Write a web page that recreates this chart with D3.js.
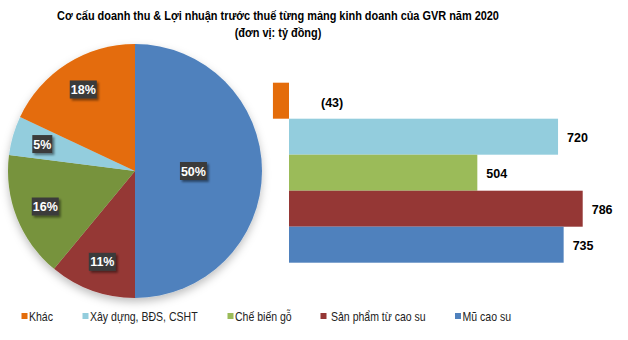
<!DOCTYPE html>
<html>
<head>
<meta charset="utf-8">
<script src="https://cdn.jsdelivr.net/npm/d3@7"></script>
<style>
  html, body { margin: 0; padding: 0; background: #fff; }
  svg { display: block; }
</style>
</head>
<body>
<svg id="chart" width="628" height="340"></svg>
<script>
// ---- data ----
const titleLines = [
  "Cơ cấu doanh thu & Lợi nhuận trước thuế từng mảng kinh doanh của GVR năm 2020",
  "(đơn vị: tỷ đồng)"
];
const categories = ["Khác", "Xây dựng, BĐS, CSHT", "Chế biến gỗ", "Sản phẩm từ cao su", "Mũ cao su"];
const revenueShare = [18, 5, 16, 11, 50];      // % of revenue (pie)
const profit = [-43, 720, 504, 786, 735];      // profit before tax, bn VND (bars)
const profitLabels = ["(43)", "720", "504", "786", "735"];
const pieColors = ["#E46C0A", "#93CDDD", "#77933C", "#953735", "#4F81BD"];
const barColors = ["#E46C0A", "#93CDDD", "#9BBB59", "#953735", "#4F81BD"];

// ---- setup ----
const FONT = "Liberation Sans, Arial, sans-serif";
const NARROW = 0.81; // horizontal compression to mimic condensed face
const svg = d3.select("#chart");
const defs = svg.append("defs");
const sh = defs.append("filter").attr("id", "pieShadow")
  .attr("x", "-20%").attr("y", "-20%").attr("width", "140%").attr("height", "150%");
sh.append("feDropShadow").attr("dx", 0).attr("dy", 4).attr("stdDeviation", 4)
  .attr("flood-color", "#000").attr("flood-opacity", 0.25);
const lsh = defs.append("filter").attr("id", "lblShadow")
  .attr("x", "-30%").attr("y", "-30%").attr("width", "170%").attr("height", "180%");
lsh.append("feDropShadow").attr("dx", 2).attr("dy", 2).attr("stdDeviation", 1.2)
  .attr("flood-color", "#000").attr("flood-opacity", 0.45);

// ---- title ----
titleLines.forEach((t, i) => {
  svg.append("text")
    .attr("transform", `translate(278,${20 + i * 17}) scale(${NARROW},1)`)
    .attr("text-anchor", "middle").attr("font-family", FONT)
    .attr("font-weight", "bold").attr("font-size", 13.5).attr("fill", "#000")
    .text(t);
});

// ---- pie ----
const cx = 135, cy = 171, R = 127;
const pieOrder = [4, 3, 2, 1, 0]; // clockwise from 12 o'clock
const pie = d3.pie().sort(null).value(i => revenueShare[i]);
const arcs = pie(pieOrder);
const arc = d3.arc().innerRadius(0).outerRadius(R);
const gPie = svg.append("g").attr("transform", `translate(${cx},${cy})`);
gPie.append("g").attr("filter", "url(#pieShadow)")
  .selectAll("path").data(arcs).join("path")
  .attr("d", arc)
  .attr("fill", d => pieColors[d.data]);

const total = d3.sum(revenueShare);
arcs.forEach(d => {
  const share = revenueShare[d.data] / total;
  const lr = share >= 0.4 ? R * 0.46 : R * 0.76;
  const a = (d.startAngle + d.endAngle) / 2;
  const x = Math.sin(a) * lr, y = -Math.cos(a) * lr;
  const txt = d3.format(".0%")(share);
  const g = gPie.append("g").attr("transform", `translate(${x},${y})`);
  const w = txt.length * 7 + 6;
  g.append("rect").attr("x", -w / 2).attr("y", -9).attr("width", w).attr("height", 18)
    .attr("fill", "#3a3a3a").attr("filter", "url(#lblShadow)");
  g.append("text").attr("text-anchor", "middle").attr("dy", "0.36em")
    .attr("font-family", FONT)
    .attr("font-weight", "bold").attr("font-size", 12.5).attr("fill", "#fff").text(txt);
});

// ---- bars ----
const x = d3.scaleLinear().domain([0, 786]).range([289, 582.7]);
const y = d3.scaleBand().domain(categories).range([82.7, 262.7]).padding(0);
svg.append("g").selectAll("rect").data(categories).join("rect")
  .attr("x", (c, i) => Math.min(x(0), x(profit[i])))
  .attr("y", c => y(c))
  .attr("width", (c, i) => Math.abs(x(profit[i]) - x(0)))
  .attr("height", y.bandwidth())
  .attr("fill", (c, i) => barColors[i]);
svg.append("g").selectAll("text").data(categories).join("text")
  .attr("x", (c, i) => profit[i] < 0 ? x(0) + 32 : x(profit[i]) + 9)
  .attr("y", (c, i) => y(c) + y.bandwidth() / 2 + (profit[i] < 0 ? 2 : 1))
  .attr("dy", "0.36em")
  .attr("font-family", FONT)
  .attr("font-weight", "bold").attr("font-size", 12.5).attr("fill", "#000")
  .text((c, i) => profitLabels[i]);

// ---- legend ----
const legendX = [21.5, 82.5, 227.5, 320.5, 455];
const legend = svg.append("g").selectAll("g").data(categories).join("g")
  .attr("transform", (c, i) => `translate(${legendX[i]},316)`);
legend.append("rect").attr("x", 0).attr("y", -3).attr("width", 6).attr("height", 6)
  .attr("fill", (c, i) => barColors[i]);
legend.append("text")
  .attr("transform", (c, i) => `translate(${i === 3 ? 10.5 : 7.5},0) scale(${NARROW},1)`)
  .attr("dy", "0.36em").attr("font-family", FONT)
  .attr("font-size", 13).attr("fill", "#222")
  .text(c => c);
</script>
</body>
</html>
